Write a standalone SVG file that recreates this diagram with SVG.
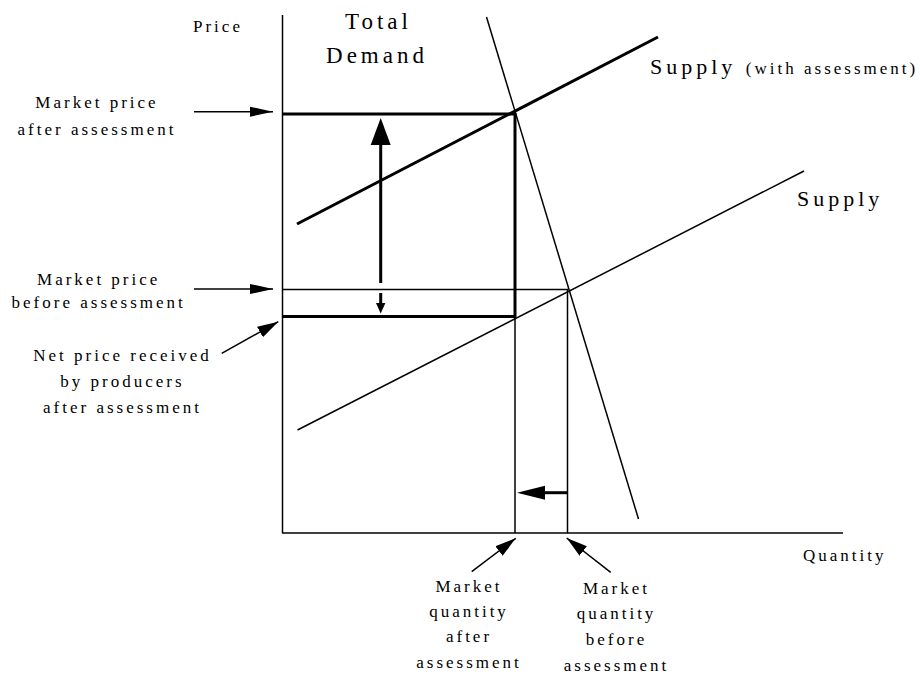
<svg xmlns="http://www.w3.org/2000/svg" width="920" height="677" viewBox="0 0 920 677">
<style>
text{fill:#000;font-family:"Liberation Serif","Times New Roman",serif}
.s{font-size:17px;letter-spacing:3px}
.m{font-size:22px;letter-spacing:4px}
.l{font-size:23px;letter-spacing:4px}
.c{text-anchor:middle}
.thin{stroke:#000;stroke-width:1.5;fill:none}
.thick{stroke:#000;stroke-width:3;fill:none}
</style>
<defs>
<marker id="ah" markerUnits="userSpaceOnUse" markerWidth="24" markerHeight="12" refX="23" refY="5" orient="auto" viewBox="0 0 24 10">
<path d="M0,0 L23,5 L0,10 z" fill="#000"/>
</marker>
<marker id="ahb" markerUnits="userSpaceOnUse" markerWidth="22" markerHeight="14" refX="21" refY="6" orient="auto" viewBox="0 0 22 12">
<path d="M0,0 L21,6 L0,12 z" fill="#000"/>
</marker>
</defs>
<g id="axes">
<line class="thin" x1="282.5" y1="15" x2="282.5" y2="533"/>
<line class="thin" x1="282" y1="533" x2="843" y2="533"/>
</g>
<g id="curves">
<line id="demand" class="thin" x1="486.5" y1="17" x2="638.5" y2="519"/>
<line id="supply-assess" class="thick" x1="297" y1="224" x2="658" y2="37"/>
<line id="supply" class="thin" x1="297.5" y1="430" x2="804" y2="171"/>
</g>
<g id="guides">
<line class="thick" x1="282" y1="114" x2="516" y2="114"/>
<line class="thin" x1="282" y1="289.5" x2="568" y2="289.5"/>
<line class="thick" x1="282" y1="316.5" x2="516" y2="316.5"/>
<line class="thick" x1="515" y1="113" x2="515" y2="318"/>
<line class="thin" x1="515" y1="318" x2="515" y2="533"/>
<line class="thin" x1="567.5" y1="289" x2="567.5" y2="533"/>
</g>
<g id="connectors">
<line class="thick" x1="380.7" y1="283" x2="380.7" y2="140"/>
<polygon points="380.7,118 370.7,145 390.7,145" fill="#000"/>
<line class="thick" x1="380.7" y1="293" x2="380.7" y2="305"/>
<polygon points="380.7,313.5 376,303 385.4,303" fill="#000"/>
<line class="thick" x1="567" y1="492.7" x2="540" y2="492.7"/>
<polygon points="517,492.7 545,485.7 545,499.7" fill="#000"/>
<line class="thin" x1="194" y1="111.7" x2="273" y2="111.7" marker-end="url(#ah)"/>
<line class="thin" x1="194" y1="289" x2="273" y2="289" marker-end="url(#ah)"/>
<line class="thin" x1="221.7" y1="353.3" x2="278.3" y2="321.7" marker-end="url(#ahb)"/>
<line class="thin" x1="471.7" y1="571.7" x2="515.7" y2="538.3" marker-end="url(#ahb)"/>
<line class="thin" x1="610.7" y1="572.3" x2="566.7" y2="538" marker-end="url(#ahb)"/>
</g>
<g id="labels">
<g id="label-price"><text class="s" x="193" y="32">Price</text></g>
<g id="label-demand">
<text class="l c" x="378.5" y="29">Total</text>
<text class="l c" x="377" y="63">Demand</text>
</g>
<g id="label-supply-assess"><text x="650" y="74"><tspan class="m">Supply </tspan><tspan class="s">(with assessment)</tspan></text></g>
<g id="label-supply"><text class="m" x="797" y="206">Supply</text></g>
<g id="label-quantity"><text class="s" x="803" y="561">Quantity</text></g>
<g id="label-mp-after">
<text class="s c" x="97" y="108">Market price</text>
<text class="s c" x="97" y="135">after assessment</text>
</g>
<g id="label-mp-before">
<text class="s c" x="98.7" y="285">Market price</text>
<text class="s c" x="98.7" y="308">before assessment</text>
</g>
<g id="label-net">
<text class="s c" x="122.5" y="361">Net price received</text>
<text class="s c" x="122.5" y="387">by producers</text>
<text class="s c" x="122.5" y="413">after assessment</text>
</g>
<g id="label-mq-after">
<text class="s c" x="469" y="592">Market</text>
<text class="s c" x="469" y="617">quantity</text>
<text class="s c" x="469" y="642">after</text>
<text class="s c" x="469" y="668">assessment</text>
</g>
<g id="label-mq-before">
<text class="s c" x="616.5" y="594">Market</text>
<text class="s c" x="616.5" y="619">quantity</text>
<text class="s c" x="616.5" y="645">before</text>
<text class="s c" x="616.5" y="671">assessment</text>
</g>
</g>
</svg>
